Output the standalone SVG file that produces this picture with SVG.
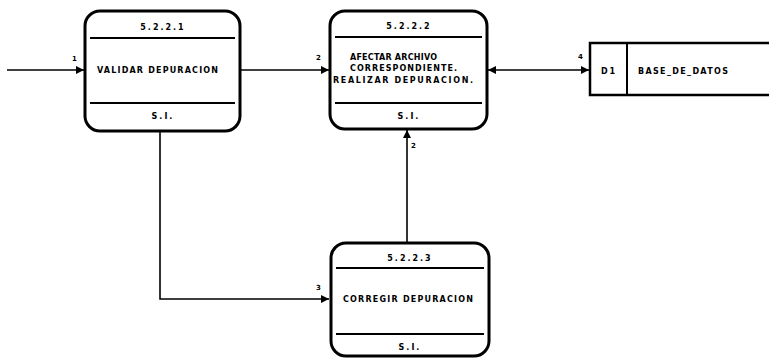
<svg xmlns="http://www.w3.org/2000/svg" width="769" height="359" viewBox="0 0 769 359">
<style>
.box{fill:#fff;stroke:#000;stroke-width:3}
.div{stroke:#000;stroke-width:2}
.con{fill:none;stroke:#000;stroke-width:1.6}
text{font-family:"DejaVu Sans","Liberation Sans",sans-serif;font-weight:bold;font-size:8px;fill:#000}
.t{text-anchor:middle;letter-spacing:2px}
.lbl{font-size:7px}
</style>
<defs>
<marker id="ah" viewBox="0 0 10 10" refX="10" refY="5" markerWidth="8" markerHeight="8" markerUnits="userSpaceOnUse" orient="auto-start-reverse">
<path d="M0,0 L10,5 L0,10 z" fill="#000"/>
</marker>
</defs>
<rect width="769" height="359" fill="#fff"/>
<g id="connectors">
<line class="con" x1="7" y1="70" x2="84" y2="70" marker-end="url(#ah)"/>
<text class="lbl" x="72" y="61">1</text>
<line class="con" x1="240" y1="70" x2="329" y2="70" marker-end="url(#ah)"/>
<text class="lbl" x="316" y="60">2</text>
<line class="con" x1="488" y1="70" x2="589" y2="70" marker-start="url(#ah)" marker-end="url(#ah)"/>
<text class="lbl" x="578" y="59">4</text>
<line class="con" x1="407" y1="242" x2="407" y2="130" marker-end="url(#ah)"/>
<text class="lbl" x="411" y="148">2</text>
<polyline class="con" points="160,131 160,299 329,299" marker-end="url(#ah)"/>
<text class="lbl" x="316" y="290">3</text>
</g>
<g id="p5221">
<rect class="box" x="85" y="11" width="155" height="120" rx="15"/>
<line class="div" x1="90" y1="38" x2="235" y2="38"/>
<line class="div" x1="90" y1="103" x2="235" y2="103"/>
<text class="t" x="163" y="30">5.2.2.1</text>
<text x="97" y="73" textLength="121" lengthAdjust="spacing">VALIDAR DEPURACION</text>
<text class="t" x="163" y="119">S.I.</text>
</g>
<g id="p5222">
<rect class="box" x="330" y="11" width="157" height="118" rx="15"/>
<line class="div" x1="335" y1="37" x2="482" y2="37"/>
<line class="div" x1="335" y1="103" x2="482" y2="103"/>
<text class="t" x="409" y="29">5.2.2.2</text>
<text x="350" y="60" textLength="87" lengthAdjust="spacing">AFECTAR ARCHIVO</text>
<text x="350" y="71" textLength="107" lengthAdjust="spacing">CORRESPONDIENTE.</text>
<text x="333" y="83" textLength="140" lengthAdjust="spacing">REALIZAR DEPURACION.</text>
<text class="t" x="409" y="119">S.I.</text>
</g>
<g id="p5223">
<rect class="box" x="331" y="243" width="158" height="113" rx="15"/>
<line class="div" x1="336" y1="268" x2="484" y2="268"/>
<line class="div" x1="336" y1="334" x2="484" y2="334"/>
<text class="t" x="410" y="261">5.2.2.3</text>
<text x="343" y="302" textLength="130" lengthAdjust="spacing">CORREGIR DEPURACION</text>
<text class="t" x="410" y="350">S.I.</text>
</g>
<g id="d1">
<path d="M769,43 L590,43 L590,95 L769,95" fill="#fff" stroke="#000" stroke-width="2.5"/>
<line class="div" x1="627" y1="43" x2="627" y2="95"/>
<text x="601" y="74" textLength="14" lengthAdjust="spacing">D1</text>
<text x="638" y="74" textLength="90" lengthAdjust="spacing">BASE_DE_DATOS</text>
</g>
</svg>
